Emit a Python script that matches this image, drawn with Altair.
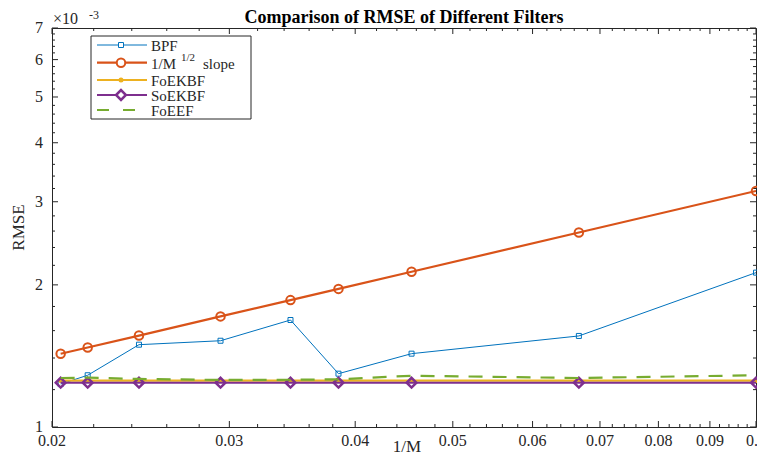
import altair as alt
import pandas as pd
import numpy as np

# ---- data ----
inv_M = [0.0204, 0.0217, 0.0244, 0.0294, 0.0345, 0.0385, 0.0455, 0.0667, 0.1]
bpf = [1.233e-3, 1.287e-3, 1.494e-3, 1.523e-3, 1.685e-3, 1.297e-3, 1.430e-3, 1.559e-3, 2.123e-3]
slope = [1.429e-3, 1.474e-3, 1.562e-3, 1.715e-3, 1.857e-3, 1.961e-3, 2.132e-3, 2.582e-3, 3.162e-3]
foekbf = [1.254e-3, 1.254e-3, 1.254e-3, 1.254e-3, 1.254e-3, 1.254e-3, 1.254e-3, 1.254e-3, 1.254e-3]
soekbf = [1.241e-3, 1.241e-3, 1.241e-3, 1.241e-3, 1.241e-3, 1.241e-3, 1.241e-3, 1.241e-3, 1.241e-3]
foeef = [1.270e-3, 1.272e-3, 1.264e-3, 1.258e-3, 1.259e-3, 1.262e-3, 1.284e-3, 1.270e-3, 1.287e-3]

x_ticks = [0.02, 0.03, 0.04, 0.05, 0.06, 0.07, 0.08, 0.09, 0.1]
x_tick_labels = ["0.02", "0.03", "0.04", "0.05", "0.06", "0.07", "0.08", "0.09", "0.1"]
y_ticks = [0.001, 0.002, 0.003, 0.004, 0.005, 0.006, 0.007]
y_tick_labels = ["1", "2", "3", "4", "5", "6", "7"]
legend_labels = ["BPF", "1/M", "FoEKBF", "SoEKBF", "FoEEF"]
title_text = "Comparison of RMSE of Different Filters"
x_title = "1/M"
y_title = "RMSE"

W, H = 704, 399
FONT = "Liberation Serif"
AX = "#262626"

xs = alt.Scale(type="log", domain=[0.02, 0.1], nice=False)
ys = alt.Scale(type="log", domain=[0.001, 0.007], nice=False)


def X(field):
    return alt.X(field, scale=xs, axis=None)


def Y(field):
    return alt.Y(field, scale=ys, axis=None)


df = pd.DataFrame({"x": inv_M, "BPF": bpf, "slope": slope,
                   "FoEKBF": foekbf, "SoEKBF": soekbf, "FoEEF": foeef})

one = pd.DataFrame({"a": [0]})

layers = []

# inward ticks
x_minor = [round(v, 3) for v in np.arange(0.022, 0.1, 0.002) if round(v, 3) not in [round(t, 3) for t in x_ticks]]
y_minor = [round(v, 5) for v in np.arange(0.0012, 0.007, 0.0002) if round(v, 5) not in [round(t, 5) for t in y_ticks]]


def xtick_layer(vals, length):
    d = pd.DataFrame({"x": vals})
    bot = alt.Chart(d).mark_rule(color=AX, strokeWidth=1).encode(
        x=X("x:Q"), y=alt.value(H), y2=alt.value(H - length))
    top = alt.Chart(d).mark_rule(color=AX, strokeWidth=1).encode(
        x=X("x:Q"), y=alt.value(0), y2=alt.value(length))
    return [bot, top]


def ytick_layer(vals, length):
    d = pd.DataFrame({"BPF": vals})
    left = alt.Chart(d).mark_rule(color=AX, strokeWidth=1).encode(
        y=Y("BPF:Q"), x=alt.value(0), x2=alt.value(length))
    right = alt.Chart(d).mark_rule(color=AX, strokeWidth=1).encode(
        y=Y("BPF:Q"), x=alt.value(W), x2=alt.value(W - length))
    return [left, right]


layers += xtick_layer(x_ticks, 6) + xtick_layer(x_minor, 3)
layers += ytick_layer(y_ticks, 6) + ytick_layer(y_minor, 3)

# tick labels through the scales
xl = pd.DataFrame({"x": x_ticks, "lab": x_tick_labels})
layers.append(alt.Chart(xl).mark_text(font=FONT, fontSize=16, color=AX, align="center",
                                      baseline="top").encode(
    x=X("x:Q"), y=alt.value(H + 6), text="lab:N"))
yl = pd.DataFrame({"BPF": y_ticks, "lab": y_tick_labels})
layers.append(alt.Chart(yl).mark_text(font=FONT, fontSize=16, color=AX, align="right",
                                      baseline="middle").encode(
    y=Y("BPF:Q"), x=alt.value(-9), text="lab:N"))

# series
styles = [
    # field, color, width, dash, shape, size, filled, pt stroke
    ("BPF", "#0072BD", 1, None, "square", 25, False, 1),
    ("slope", "#D95319", 2.2, None, "circle", 72, False, 2),
    ("FoEKBF", "#EDB120", 2.2, None, "circle", 25, True, 1),
    ("SoEKBF", "#7E2F8E", 2.2, None, "diamond", 95, False, 2.5),
    ("FoEEF", "#77AC30", 2.2, [14, 10], None, 0, False, 0),
]

for f, c, w, dash, shape, size, filled, pw in styles:
    lk = dict(color=c, strokeWidth=w, clip=True)
    if dash:
        lk["strokeDash"] = dash
    layers.append(alt.Chart(df).mark_line(**lk).encode(x=X("x:Q"), y=Y(f + ":Q")))
    if shape:
        pk = dict(shape=shape, size=size, filled=filled, color=c, opacity=1, clip=False)
        if not filled:
            pk["strokeWidth"] = pw
            pk["fill"] = "white"
            pk["fillOpacity"] = 0
        layers.append(alt.Chart(df).mark_point(**pk).encode(x=X("x:Q"), y=Y(f + ":Q")))


def txt(s, x, y, size, weight="normal", align="left", baseline="alphabetic", angle=0):
    kw = dict(font=FONT, fontSize=size, fontWeight=weight, color=AX if weight == "normal" else "black",
              align=align, baseline=baseline)
    if angle:
        kw["angle"] = angle
    return alt.Chart(one).mark_text(**kw).encode(x=alt.value(x), y=alt.value(y), text=alt.value(s))


# titles
layers.append(txt(title_text, W / 2, -5, 18, weight="bold", align="center"))
layers.append(txt(y_title, -33, H / 2, 17, align="center", baseline="middle", angle=270))
layers.append(txt(x_title, 355, 424, 17, align="center"))

# exponent label
layers.append(txt("×10", 1, -4, 16))
layers.append(txt("-3", 37, -9, 12))

# legend
lx0, lx1, ly0, ly1 = 39, 199, 8, 91
layers.append(alt.Chart(one).mark_rect(fill="white", stroke=AX, strokeWidth=1).encode(
    x=alt.value(lx0), x2=alt.value(lx1), y=alt.value(ly0), y2=alt.value(ly1)))
rows = [17, 34.7, 52, 67, 82]
for (f, c, w, dash, shape, size, filled, pw), lab, ry in zip(styles, legend_labels, rows):
    rk = dict(color=c, strokeWidth=w)
    if dash:
        rk["strokeDash"] = [12, 14]
    layers.append(alt.Chart(one).mark_rule(**rk).encode(
        x=alt.value(45), x2=alt.value(95), y=alt.value(ry)))
    if shape:
        pk = dict(shape=shape, size=size, filled=filled, color=c, opacity=1)
        if not filled:
            pk["strokeWidth"] = pw
            pk["fill"] = "white"
            pk["fillOpacity"] = 1
        layers.append(alt.Chart(one).mark_point(**pk).encode(
            x=alt.value(69), y=alt.value(ry)))
    layers.append(txt(lab, 99, ry + 1, 15, baseline="middle"))
# superscript and tail for the slope entry
layers.append(txt("1/2", 129, rows[1] - 5, 11, baseline="middle"))
layers.append(txt("slope", 151, rows[1] + 1, 15, baseline="middle"))

chart = alt.layer(*layers).properties(
    width=W, height=H,
    background="white",
    autosize=alt.AutoSizeParams(type="none"),
    padding={"left": 44, "top": 20, "right": 1, "bottom": 29},
).configure(font=FONT).configure_view(stroke=AX, strokeWidth=1)

chart.save("out.html", embed_options={"renderer": "svg", "actions": False})
